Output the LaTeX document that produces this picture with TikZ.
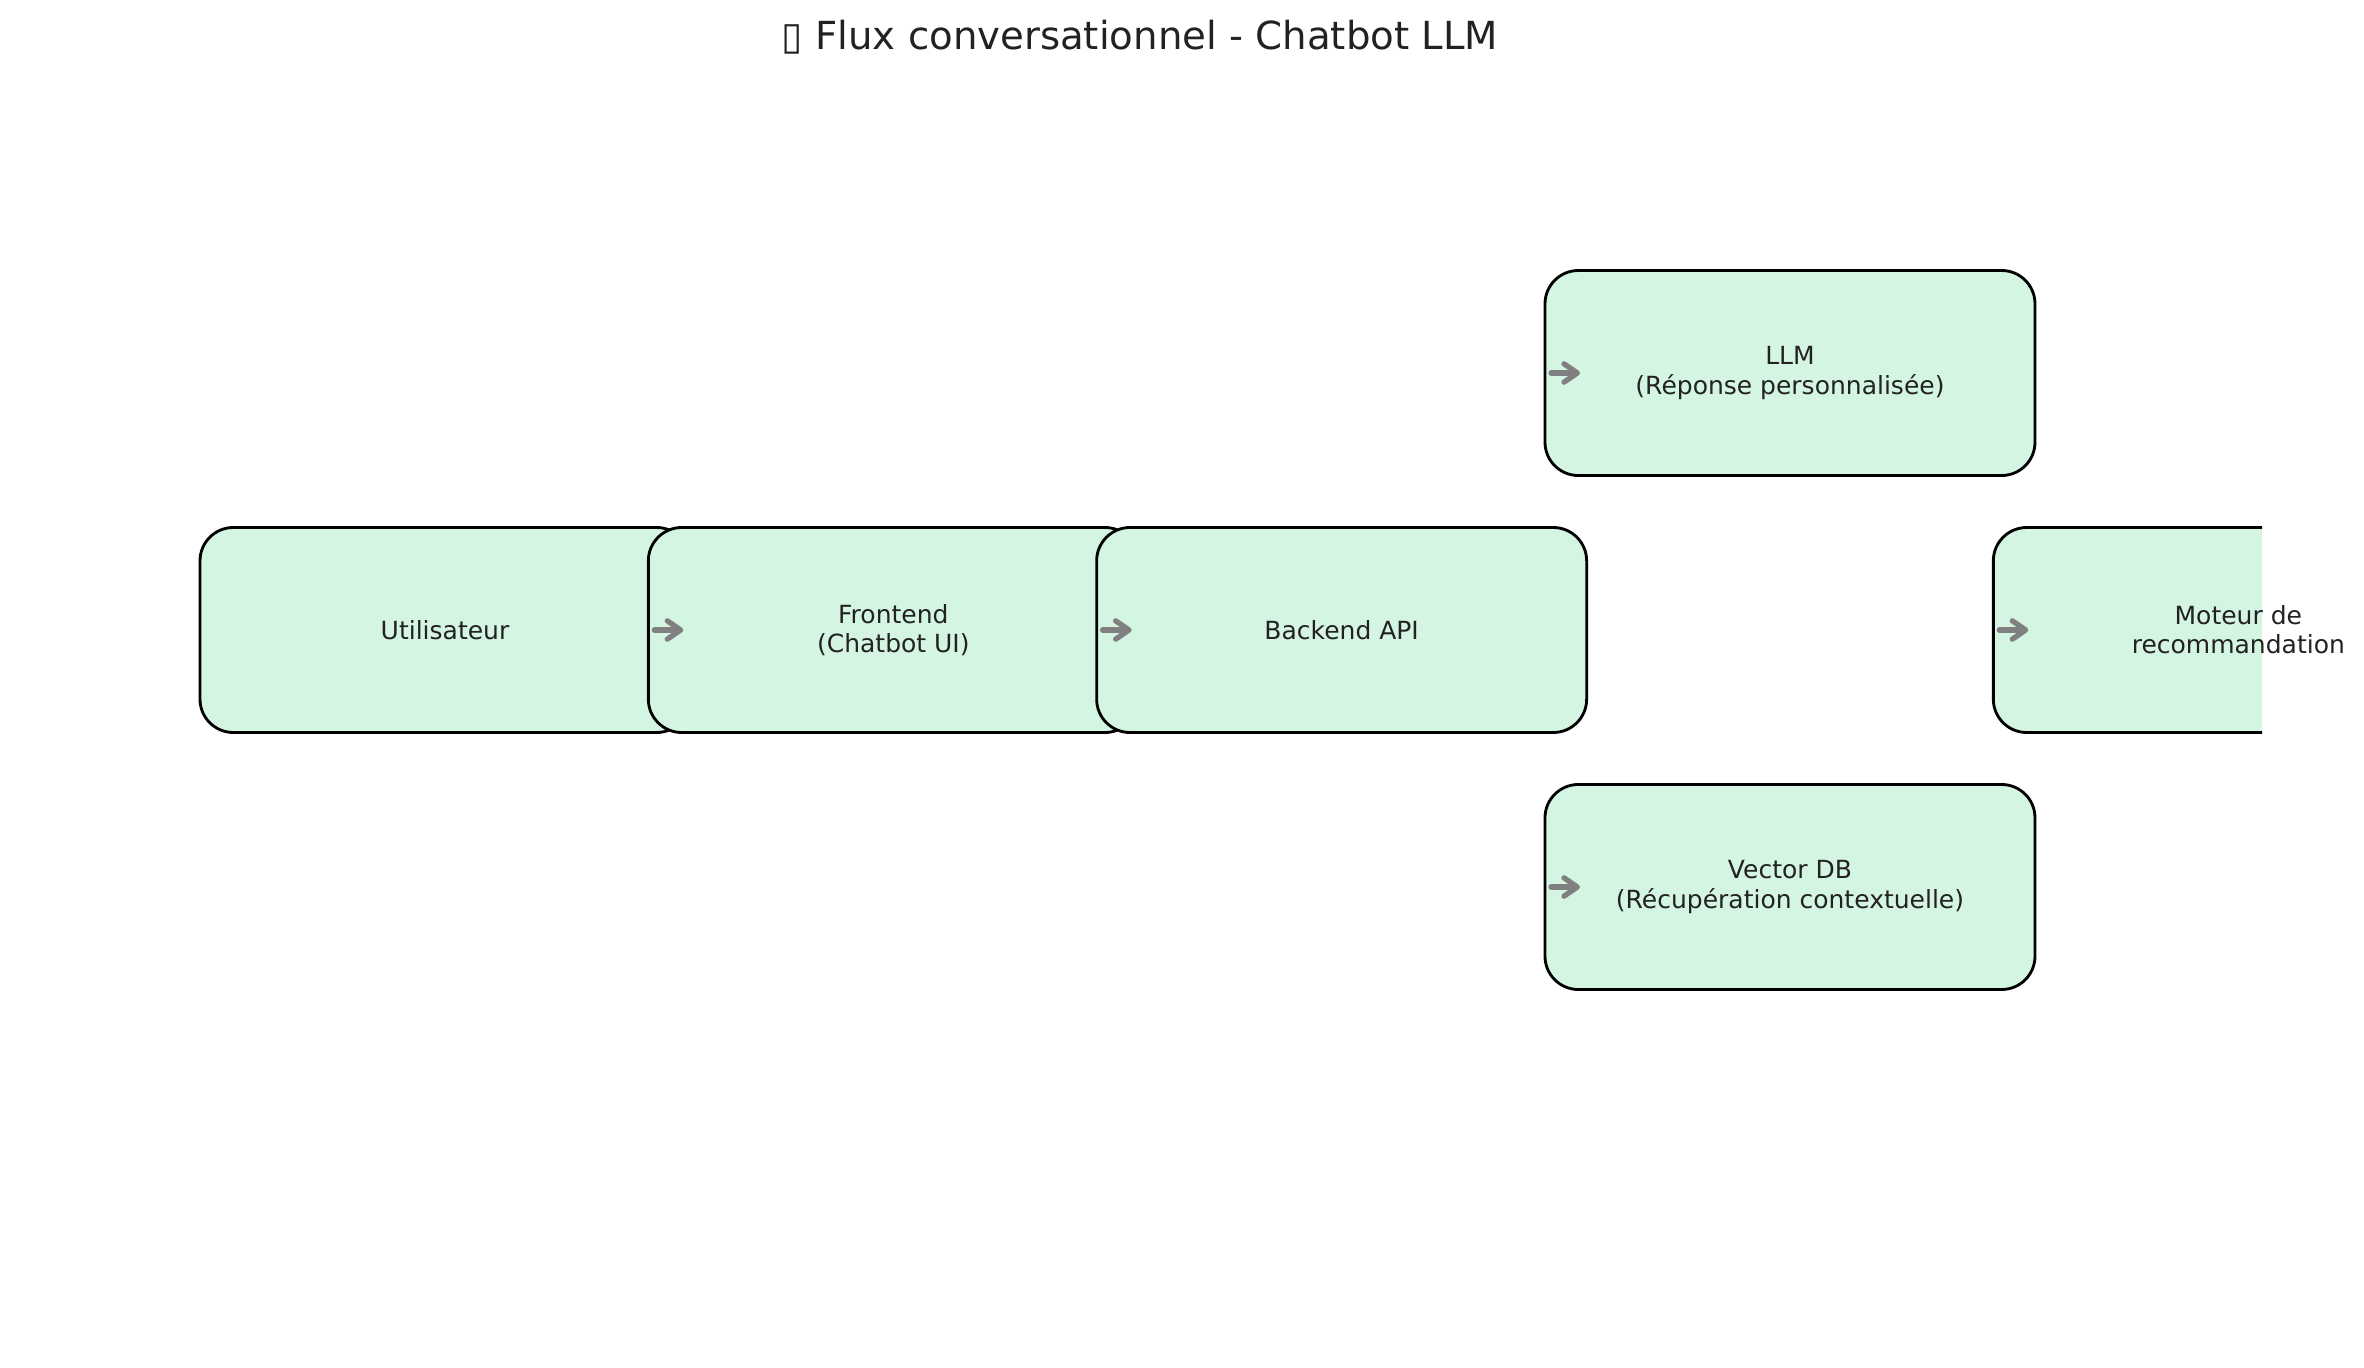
\documentclass[tikz,border=0pt]{standalone}
\usepackage{fontspec}
\setmainfont{DejaVu Sans}
\usetikzlibrary{positioning,arrows.meta}
\definecolor{boxfill}{HTML}{D5F5E3}
\definecolor{arrgray}{HTML}{808080}
\definecolor{txtdark}{HTML}{222222}

\begin{document}
\begin{tikzpicture}[
  x=0.3pt, y=-0.3pt,
  node distance=15.6pt and -12.5pt,
  box/.style={
    rectangle, draw=black, line width=0.85pt, rounded corners=10pt,
    fill=boxfill, minimum width=147pt, minimum height=61.5pt,
    align=center, font=\fontsize{7.5}{8.8}\selectfont, text=txtdark,
    inner sep=0pt, outer sep=0pt
  },
  lbl/.style={align=center, font=\fontsize{7.5}{8.8}\selectfont, text=txtdark, inner sep=0pt},
  arr/.style={-{Straight Barb[length=4pt,width=5.5pt,round]}, line width=1.6pt, line cap=round, draw=arrgray}
]
\useasboundingbox (0,0) rectangle (2364,1368);

\node[font=\fontsize{11.6}{14}\selectfont, text=txtdark, anchor=base] (title) at (1140,50) {▯ Flux conversationnel - Chatbot LLM};

\node[box] (user) at (445,630) {Utilisateur};
\node[box, right=of user] (front) {Frontend\\(Chatbot UI)};
\node[box, right=of front] (back) {Backend API};
\node[box, above right=of back] (llm) {LLM\\(Réponse personnalisée)};
\node[box, below right=of back] (vdb) {Vector DB\\(Récupération contextuelle)};

% box cut at the right edge of the axes
\begin{scope}
  \clip (0,0) rectangle (2262,1368);
  \node[box, below right=of llm] (reco) {};
\end{scope}
\node[lbl] (recotxt) at (reco) {Moteur de\\recommandation};

\draw[arr] ([xshift=1.8pt]front.west) -- ([xshift=10.5pt]front.west);
\draw[arr] ([xshift=1.8pt]back.west) -- ([xshift=10.5pt]back.west);
\draw[arr] ([xshift=1.8pt]llm.west) -- ([xshift=10.5pt]llm.west);
\draw[arr] ([xshift=1.8pt]vdb.west) -- ([xshift=10.5pt]vdb.west);
\draw[arr] ([xshift=1.8pt]reco.west) -- ([xshift=10.5pt]reco.west);

\end{tikzpicture}
\end{document}
